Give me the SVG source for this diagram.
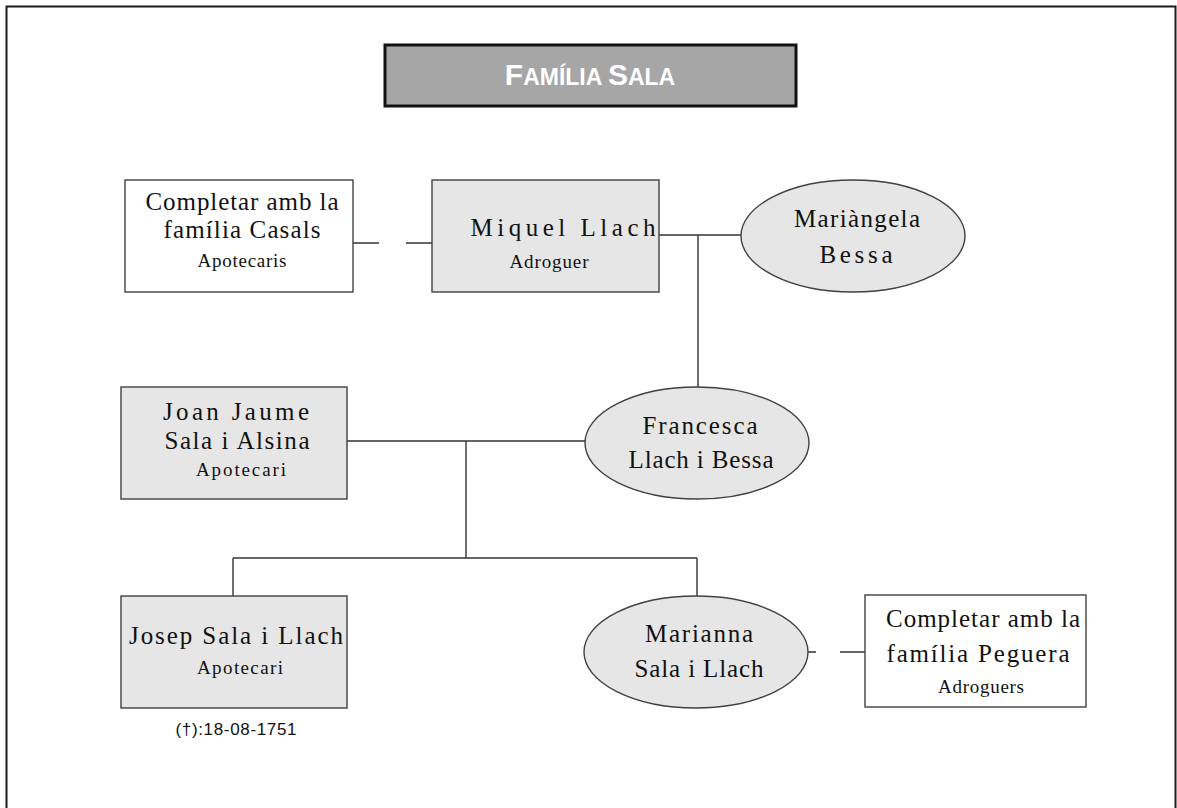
<svg xmlns="http://www.w3.org/2000/svg" width="1177" height="808" viewBox="0 0 1177 808">
<style>
.frame{fill:none;stroke:#1a1a1a;stroke-width:2}
.box{stroke:#404040;stroke-width:1.4}
.white{fill:#ffffff}
.gray{fill:#e6e6e6}
.conn line,.conn path{stroke:#333333;stroke-width:1.4;fill:none}
.name{font-family:"Liberation Serif",serif;font-size:25px;fill:#111111;text-anchor:middle}
.sub{font-family:"Liberation Serif",serif;font-size:19px;fill:#111111;text-anchor:middle}
.date{font-family:"Liberation Sans",sans-serif;font-size:17px;fill:#111111;text-anchor:middle}
.title{font-family:"Liberation Sans",sans-serif;font-weight:bold;fill:#ffffff;text-anchor:middle}
</style>
<rect class="frame" x="6.5" y="6.5" width="1169" height="812"/>
<g id="title">
<rect x="385" y="45" width="411" height="61" fill="#a6a6a6" stroke="#111111" stroke-width="3"/>
<text class="title" x="590" y="85"><tspan font-size="30">F</tspan><tspan font-size="23">AMÍLIA </tspan><tspan font-size="30">S</tspan><tspan font-size="23">ALA</tspan></text>
</g>
<g class="conn" id="connectors">
<path d="M353 243 H379 M406 243 H432"/>
<line x1="659" y1="235" x2="741" y2="235"/>
<line x1="698" y1="235" x2="698" y2="387"/>
<line x1="347" y1="441" x2="586" y2="441"/>
<line x1="466" y1="441" x2="466" y2="558"/>
<line x1="233" y1="558" x2="697" y2="558"/>
<line x1="233" y1="558" x2="233" y2="596"/>
<line x1="697" y1="558" x2="697" y2="596"/>
<path d="M807 652 H816 M840 652 H865"/>
</g>
<g id="casals">
<rect class="box white" x="125" y="180" width="228" height="112"/>
<text class="name" x="242" y="210" textLength="193">Completar amb la</text>
<text class="name" x="242" y="238" textLength="157">família Casals</text>
<text class="sub" x="242" y="267" textLength="89">Apotecaris</text>
</g>
<g id="miquel">
<rect class="box gray" x="432" y="180" width="227" height="112"/>
<text class="name" x="563" y="236" textLength="185">Miquel Llach</text>
<text class="sub" x="549" y="268" textLength="79">Adroguer</text>
</g>
<g id="mariangela">
<ellipse class="box gray" cx="853" cy="236" rx="112" ry="56"/>
<text class="name" x="857" y="227" textLength="126">Mariàngela</text>
<text class="name" x="856" y="263" textLength="73">Bessa</text>
</g>
<g id="joan">
<rect class="box gray" x="121" y="387" width="226" height="112"/>
<text class="name" x="236" y="420" textLength="146">Joan Jaume</text>
<text class="name" x="237" y="449" textLength="145">Sala i Alsina</text>
<text class="sub" x="241" y="476" textLength="90">Apotecari</text>
</g>
<g id="francesca">
<ellipse class="box gray" cx="697" cy="443" rx="112" ry="56"/>
<text class="name" x="700" y="434" textLength="115">Francesca</text>
<text class="name" x="701" y="468" textLength="145">Llach i Bessa</text>
</g>
<g id="josep">
<rect class="box gray" x="121" y="596" width="226" height="112"/>
<text class="name" x="236" y="644" textLength="214">Josep Sala i Llach</text>
<text class="sub" x="240" y="674" textLength="86">Apotecari</text>
<text class="date" x="236" y="735" textLength="121">(†):18-08-1751</text>
</g>
<g id="marianna">
<ellipse class="box gray" cx="696" cy="652" rx="112" ry="56"/>
<text class="name" x="699" y="642" textLength="108">Marianna</text>
<text class="name" x="699" y="677" textLength="129">Sala i Llach</text>
</g>
<g id="peguera">
<rect class="box white" x="865" y="595" width="221" height="112"/>
<text class="name" x="983" y="627" textLength="194">Completar amb la</text>
<text class="name" x="978" y="662" textLength="183">família Peguera</text>
<text class="sub" x="981" y="693" textLength="86">Adroguers</text>
</g>
</svg>
